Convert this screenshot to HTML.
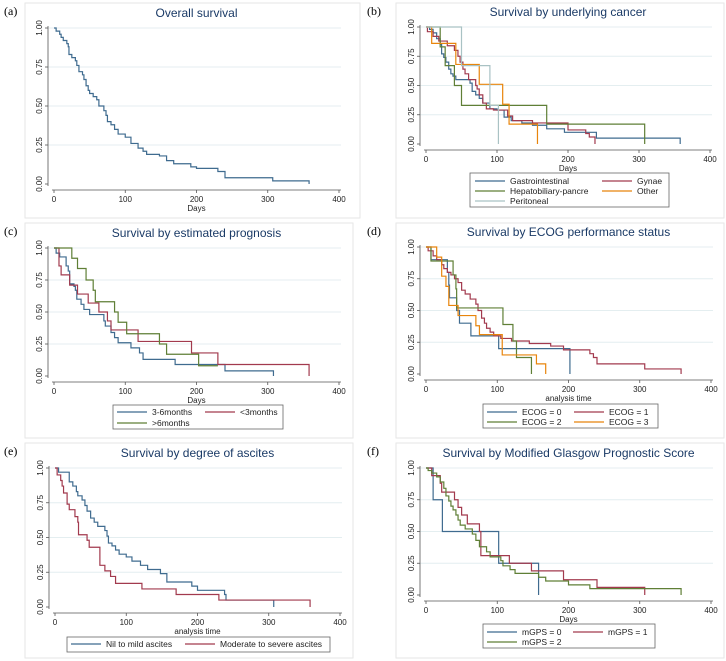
<!DOCTYPE html>
<html><head><meta charset="utf-8"><style>
body{margin:0;background:#fff;}
svg{display:block;font-family:"Liberation Sans",sans-serif;}
</style></head><body>
<svg id="fig" width="726" height="661" viewBox="0 0 726 661" xmlns="http://www.w3.org/2000/svg"></svg>
<script>
// ---- data: times (days) and survival values per series ----
const xTicks=[0,100,200,300,400];
const yTicks=[0,0.25,0.5,0.75,1];
const yTickLabels=["0.00","0.25","0.50","0.75","1.00"];
const xTickLabels=["0","100","200","300","400"];

const aT=[3,8,10,13,18,20,21,25,30,32,35,40,42,45,48,50,55,60,63,70,73,75,80,85,90,100,108,118,125,130,148,158,168,192,200,230,240,307,358];
const aS=[0.98,0.96,0.94,0.92,0.90,0.88,0.83,0.81,0.79,0.76,0.72,0.70,0.67,0.63,0.60,0.58,0.56,0.54,0.50,0.47,0.44,0.40,0.38,0.35,0.32,0.30,0.26,0.23,0.21,0.19,0.18,0.15,0.13,0.11,0.10,0.08,0.04,0.02,0.0];

const bGiT=[5,10,15,20,22,25,28,32,35,38,42,62,65,70,75,80,90,100,110,120,135,150,170,195,240,358];
const bGiS=[0.98,0.95,0.90,0.85,0.77,0.74,0.70,0.64,0.60,0.58,0.55,0.52,0.45,0.42,0.39,0.35,0.30,0.29,0.23,0.20,0.18,0.16,0.13,0.10,0.05,0.0];
const bGyT=[2,10,18,30,40,45,48,52,55,60,70,72,75,80,85,95,115,122,150,200,225,230,238];
const bGyS=[0.96,0.92,0.88,0.84,0.80,0.75,0.70,0.64,0.60,0.55,0.50,0.47,0.42,0.35,0.30,0.29,0.24,0.20,0.18,0.12,0.09,0.06,0.0];
const bHpT=[20,27,40,50,170,308];
const bHpS=[0.83,0.67,0.50,0.33,0.17,0.0];
const bOtT=[8,42,75,108,117,157];
const bOtS=[0.86,0.68,0.51,0.34,0.17,0.0];
const bPeT=[50,90,102];
const bPeS=[0.67,0.33,0.0];

const c36T=[3,8,17,20,22,28,30,32,38,42,50,70,72,80,85,90,108,120,125,170,240,308];
const c36S=[0.96,0.93,0.86,0.82,0.72,0.70,0.67,0.60,0.56,0.52,0.48,0.43,0.39,0.34,0.30,0.26,0.22,0.18,0.13,0.09,0.04,0.0];
const cLt3T=[7,10,22,33,48,63,75,80,118,193,230,358];
const cLt3S=[0.86,0.79,0.71,0.64,0.57,0.50,0.43,0.36,0.27,0.18,0.09,0.0];
const cGt6T=[25,33,45,55,58,85,90,102,148,158,203,230];
const cGt6S=[0.92,0.84,0.75,0.67,0.58,0.50,0.42,0.33,0.25,0.17,0.08,0.08];

const d0T=[7,30,32,33,43,47,63,102,202];
const d0S=[0.90,0.80,0.70,0.60,0.50,0.40,0.30,0.20,0.0];
const d1T=[3,10,15,22,25,30,35,40,45,50,55,62,70,73,78,82,85,90,95,105,120,145,175,193,230,235,240,307,358];
const d1S=[0.97,0.93,0.90,0.86,0.83,0.80,0.78,0.75,0.72,0.66,0.63,0.59,0.55,0.50,0.44,0.40,0.36,0.33,0.30,0.28,0.26,0.24,0.22,0.19,0.16,0.13,0.08,0.04,0.0];
const d2T=[7,38,42,43,108,122,127,148];
const d2S=[0.89,0.78,0.67,0.52,0.39,0.26,0.13,0.0];
const d3T=[15,22,28,32,45,70,75,107,155,168];
const d3S=[0.92,0.77,0.69,0.54,0.46,0.38,0.31,0.15,0.08,0.0];

const eNilT=[5,20,25,30,32,38,42,45,50,55,60,70,73,75,80,85,90,100,108,120,130,148,157,192,200,238,240,307];
const eNilS=[0.97,0.90,0.87,0.83,0.80,0.77,0.73,0.69,0.64,0.61,0.58,0.55,0.51,0.46,0.44,0.41,0.38,0.36,0.33,0.30,0.27,0.24,0.18,0.15,0.12,0.09,0.05,0.0];
const eModT=[3,8,10,12,17,20,28,32,33,45,48,63,70,78,85,122,170,230,358];
const eModS=[0.95,0.91,0.87,0.82,0.74,0.70,0.65,0.61,0.52,0.48,0.43,0.30,0.26,0.22,0.17,0.13,0.09,0.05,0.0];

const f0T=[10,23,102,158];
const f0S=[0.75,0.50,0.25,0.0];
const f1T=[8,20,22,40,45,50,58,75,77,117,148,193,240,307];
const f1S=[0.94,0.88,0.81,0.75,0.69,0.63,0.56,0.50,0.31,0.25,0.19,0.12,0.06,0.0];
const f2T=[3,8,15,20,25,28,32,35,38,42,45,48,55,65,70,75,85,90,105,108,118,125,158,168,200,230,358];
const f2S=[0.98,0.96,0.93,0.89,0.84,0.78,0.74,0.70,0.67,0.63,0.59,0.55,0.52,0.48,0.43,0.38,0.34,0.30,0.27,0.23,0.20,0.17,0.14,0.11,0.08,0.05,0.0];

const BLUE="#3f6b8f",RED="#a23a4e",GREEN="#5f7f36",ORANGE="#e8850c",TEAL="#a9c2c4";
const NS="http://www.w3.org/2000/svg";
const svg=document.getElementById('fig');
function mk(tag,attrs,parent){const e=document.createElementNS(NS,tag);for(const k in attrs)e.setAttribute(k,attrs[k]);(parent||svg).appendChild(e);return e;}

const panels=[
 {id:'a',label:'(a)',frame:[25,3,335,215],x0:54,x400:339,y1:28,y0:184,title:'Overall survival',xlab:'Days',
  series:[{n:'overall',t:aT,s:aS,c:BLUE}],legend:null},
 {id:'b',label:'(b)',frame:[396,3,328,215],x0:426,x400:710,y1:27,y0:144,title:'Survival by underlying cancer',xlab:'Days',
  series:[{n:'gastrointestinal',t:bGiT,s:bGiS,c:BLUE,lab:'Gastrointestinal'},{n:'gynae',t:bGyT,s:bGyS,c:RED,lab:'Gynae'},{n:'hepatobiliary-pancreas',t:bHpT,s:bHpS,c:GREEN,lab:'Hepatobiliary-pancre'},{n:'other',t:bOtT,s:bOtS,c:ORANGE,lab:'Other'},{n:'peritoneal',t:bPeT,s:bPeS,c:TEAL,lab:'Peritoneal'}],
  legend:{box:[470,173,199,34],cols:[475,602],rows:[181,191,201]}},
 {id:'c',label:'(c)',frame:[25,223,328,215],x0:54,x400:339,y1:248,y0:376,title:'Survival by estimated prognosis',xlab:'Days',
  series:[{n:'3-6months',t:c36T,s:c36S,c:BLUE,lab:'3-6months'},{n:'lt-3months',t:cLt3T,s:cLt3S,c:RED,lab:'<3months'},{n:'gt-6months',t:cGt6T,s:cGt6S,c:GREEN,lab:'>6months'}],
  legend:{box:[113,405,170,24],cols:[117,205],rows:[412,423]}},
 {id:'d',label:'(d)',frame:[396,223,328,215],x0:426,x400:711,y1:247,y0:374,title:'Survival by ECOG performance status',xlab:'analysis time',
  series:[{n:'ecog-0',t:d0T,s:d0S,c:BLUE,lab:'ECOG = 0'},{n:'ecog-1',t:d1T,s:d1S,c:RED,lab:'ECOG = 1'},{n:'ecog-2',t:d2T,s:d2S,c:GREEN,lab:'ECOG = 2'},{n:'ecog-3',t:d3T,s:d3S,c:ORANGE,lab:'ECOG = 3'}],
  legend:{box:[483,404,175,24],cols:[487,574],rows:[412,422]}},
 {id:'e',label:'(e)',frame:[25,443,328,215],x0:55,x400:340,y1:468,y0:607,title:'Survival by degree of ascites',xlab:'analysis time',
  series:[{n:'nil-to-mild',t:eNilT,s:eNilS,c:BLUE,lab:'Nil to mild ascites'},{n:'moderate-to-severe',t:eModT,s:eModS,c:RED,lab:'Moderate to severe ascites'}],
  legend:{box:[67,637,263,15],cols:[71,185],rows:[644]}},
 {id:'f',label:'(f)',frame:[396,443,328,215],x0:426,x400:711,y1:468,y0:595,title:'Survival by Modified Glasgow Prognostic Score',xlab:'Days',
  series:[{n:'mgps-0',t:f0T,s:f0S,c:BLUE,lab:'mGPS = 0'},{n:'mgps-1',t:f1T,s:f1S,c:RED,lab:'mGPS = 1'},{n:'mgps-2',t:f2T,s:f2S,c:GREEN,lab:'mGPS = 2'}],
  legend:{box:[483,624,172,24],cols:[487,573],rows:[632,642]}}
];

panels.forEach(p=>{
  const g=mk('g',{});
  
  
  const xs=v=>p.x0+(v/400)*(p.x400-p.x0);
  const ys=v=>p.y0-(v)*(p.y0-p.y1);
  const fr=mk('rect',{x:p.frame[0],y:p.frame[1],width:p.frame[2],height:p.frame[3],fill:'#fff',stroke:'#e6e6e6','stroke-width':1},g);
  
  
  const pl=mk('text',{x:4,y:p.frame[1]+12,'font-family':'Liberation Serif, serif','font-size':12,fill:'#000'},g);
  pl.setAttribute('x',p.id.charCodeAt(0)%2? 4 : 367);
  pl.textContent=p.label;
  
  
  const tt=mk('text',{x:(p.x0+p.x400)/2,y:p.y1-11,'text-anchor':'middle','font-size':12,fill:'#1a3a66'},g);
  tt.textContent=p.title;
  
  
  const axX=p.x0-6, axY=p.y0+6;
  yTicks.forEach((v,i)=>{
    if(v>0){const gl=mk('line',{x1:axX,x2:p.x400+2,y1:ys(v),y2:ys(v),stroke:'#e4eef0','stroke-width':1},g);
    
    }
    const tk=mk('line',{x1:axX-3,x2:axX,y1:ys(v),y2:ys(v),stroke:'#555','stroke-width':0.8},g);
    
    
    const lb=mk('text',{x:0,y:0,transform:`translate(${axX-6},${ys(v)}) rotate(-90)`,'text-anchor':'middle','font-size':8,fill:'#222'},g);
    lb.textContent=yTickLabels[i];
    
    
  });
  xTicks.forEach((v,i)=>{
    const tk=mk('line',{x1:xs(v),x2:xs(v),y1:axY,y2:axY+3,stroke:'#555','stroke-width':0.8},g);
    
    
    const lb=mk('text',{x:xs(v),y:axY+12,'text-anchor':'middle','font-size':8,fill:'#222'},g);
    lb.textContent=xTickLabels[i];
    
    
  });
  const ya=mk('line',{x1:axX,x2:axX,y1:ys(1)-2,y2:ys(0)+2,stroke:'#555','stroke-width':0.8},g);
  
  
  const xa=mk('line',{x1:xs(0)-2,x2:xs(400)+2,y1:axY,y2:axY,stroke:'#555','stroke-width':0.8},g);
  
  
  const xl=mk('text',{x:(p.x0+p.x400)/2,y:axY+21,'text-anchor':'middle','font-size':8,fill:'#222'},g);
  xl.textContent=p.xlab;
  
  
  p.series.forEach(se=>{
    let d=`M${xs(0)},${ys(1)}`;
    se.t.forEach((t,i)=>{d+=` H${xs(t)} V${ys(se.s[i])}`;});
    const path=mk('path',{d:d,fill:'none',stroke:se.c,'stroke-width':1.2},g);
    
    
  });
  if(p.legend){
    const L=p.legend;
    const lb=mk('rect',{x:L.box[0],y:L.box[1],width:L.box[2],height:L.box[3],fill:'#fff',stroke:'#666','stroke-width':0.8},g);
    
    
    p.series.forEach((se,i)=>{
      const cx=L.cols[i%2], ry=L.rows[Math.floor(i/2)];
      const ln=mk('line',{x1:cx,x2:cx+30,y1:ry,y2:ry,stroke:se.c,'stroke-width':1.2},g);
      
      
      const tx=mk('text',{x:cx+35,y:ry+3,'font-size':8.5,fill:'#222'},g);
      tx.textContent=se.lab;
      
      
    });
  }
});
</script>
</body></html>
